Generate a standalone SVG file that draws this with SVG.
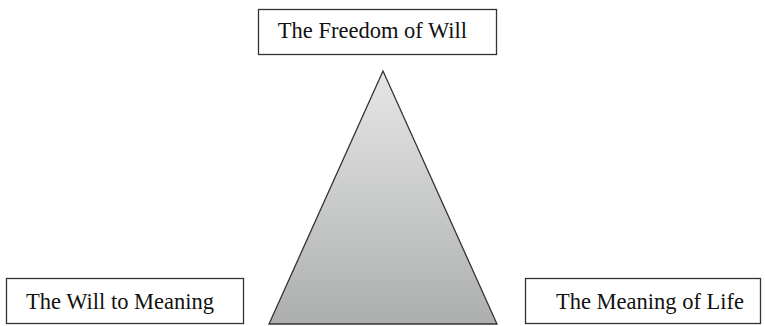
<svg xmlns="http://www.w3.org/2000/svg" width="765" height="326" viewBox="0 0 765 326">
<style>
.box{fill:#fff;stroke:#333;stroke-width:1.3}
.lbl{font-family:"Liberation Serif","Times New Roman",serif;font-size:22.5px;fill:#111;text-anchor:middle}
</style>
<defs>
<linearGradient id="g" x1="0" y1="0" x2="0" y2="1">
<stop offset="0" stop-color="#e6e6e6"/>
<stop offset="1" stop-color="#adafaf"/>
</linearGradient>
</defs>
<rect width="765" height="326" fill="#fff"/>
<g id="pyramid">
<polygon points="383,71 269,324 497,324" fill="url(#g)" stroke="#333" stroke-width="1.3" stroke-linejoin="miter"/>
</g>
<g id="freedom">
<rect class="box" x="258.5" y="9.5" width="238" height="45"/>
<text class="lbl" x="372.5" y="38">The Freedom of Will</text>
</g>
<g id="will">
<rect class="box" x="6.5" y="278.5" width="237" height="45"/>
<text class="lbl" x="120" y="309">The Will to Meaning</text>
</g>
<g id="meaning">
<rect class="box" x="525.5" y="278.5" width="235" height="45"/>
<text class="lbl" x="650" y="309">The Meaning of Life</text>
</g>
<g id="connectors"></g>
</svg>
